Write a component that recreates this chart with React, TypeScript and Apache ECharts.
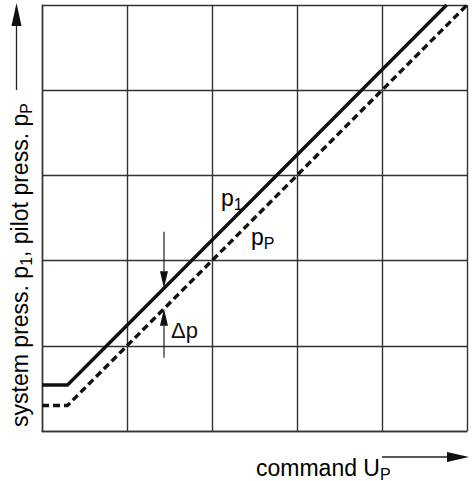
import React, { useEffect, useRef } from 'react';
import * as echarts from 'echarts';

// Axis range (grid of 5 x 5 cells, no tick labels)
const xRange = [0, 5];
const yRange = [0, 5];
const gridStep = 1;

// Series values (command U_P -> pressure)
const systemPressureP1: [number, number][] = [
  [0, 0.54],
  [0.3, 0.54],
  [4.76, 5],
];
const pilotPressurePP: [number, number][] = [
  [0, 0.3],
  [0.3, 0.3],
  [5, 5],
];

// Δp annotation (data coords)
const deltaX = 1.435;
const deltaTopStart = 2.34;
const deltaBottomStart = 0.86;

const yTitle = '{n|system press. p}{s|1}{n|, pilot press. p}{s|P}';
const xTitle = '{n|command U}{s|P}';
const labelP1 = '{n|p}{s|1}';
const labelPP = '{n|p}{s|P}';
const labelDelta = 'Δp';

const FONT = '"Liberation Sans", Arial, sans-serif';

const rich = (big: number, small: number, pad: number) => ({
  n: { fontSize: big, fontFamily: FONT, color: '#111' },
  s: { fontSize: small, fontFamily: FONT, color: '#111', padding: [pad, 0, 0, 0] },
});

export default function App() {
  const ref = useRef<HTMLDivElement>(null);
  useEffect(() => {
    if (!ref.current) return;
    const chart = echarts.init(ref.current, undefined, { renderer: 'svg' });
    const axisCommon = {
      type: 'value' as const,
      interval: gridStep,
      axisLabel: { show: false },
      axisTick: { show: false },
      axisLine: { show: true, lineStyle: { color: '#333', width: 1.4 } },
      splitLine: { show: true, lineStyle: { color: '#333', width: 1.4 } },
    };
    chart.setOption({
      animation: false,
      backgroundColor: '#fff',
      grid: { left: 42, top: 5, width: 425, height: 426, show: false },
      xAxis: { ...axisCommon, min: xRange[0], max: xRange[1] },
      yAxis: { ...axisCommon, min: yRange[0], max: yRange[1] },
      series: [
        {
          type: 'line',
          data: systemPressureP1,
          symbol: 'none',
          lineStyle: { color: '#111', width: 3.4, type: 'solid' },
          z: 3,
        },
        {
          type: 'line',
          data: pilotPressurePP,
          symbol: 'none',
          lineStyle: { color: '#111', width: 3.4, type: [7, 4] },
          z: 3,
        },
      ],
    });

    const px = (x: number, y: number) => chart.convertToPixel({ gridIndex: 0 }, [x, y]) as number[];
    const topA = px(deltaX, deltaTopStart);
    const topTip = px(deltaX, deltaX + 0.24);
    const botA = px(deltaX, deltaBottomStart);
    const botTip = px(deltaX, deltaX);
    const ax = topA[0];
    const head = 17;
    const hw = 4;

    chart.setOption({
      graphic: [
        // Δp arrows
        { type: 'line', shape: { x1: ax, y1: topA[1], x2: ax, y2: topTip[1] - head }, style: { stroke: '#222', lineWidth: 1.2 } },
        { type: 'polygon', shape: { points: [[ax - hw, topTip[1] - head], [ax + hw, topTip[1] - head], [ax, topTip[1]]] }, style: { fill: '#111' } },
        { type: 'line', shape: { x1: ax, y1: botA[1], x2: ax, y2: botTip[1] + head }, style: { stroke: '#222', lineWidth: 1.2 } },
        { type: 'polygon', shape: { points: [[ax - hw, botTip[1] + head], [ax + hw, botTip[1] + head], [ax, botTip[1]]] }, style: { fill: '#111' } },
        // labels
        { type: 'text', x: 221, y: 198, style: { text: labelP1, rich: rich(23, 16, 12), verticalAlign: 'middle' } },
        { type: 'text', x: 251, y: 237, style: { text: labelPP, rich: rich(23, 16, 12), verticalAlign: 'middle' } },
        { type: 'text', x: 171, y: 330, style: { text: labelDelta, fontSize: 22, fontFamily: FONT, fill: '#111', verticalAlign: 'middle' } },
        // y title
        {
          type: 'text', x: 20, y: 265, rotation: Math.PI / 2,
          style: { text: yTitle, rich: rich(23, 16, 12), align: 'center', verticalAlign: 'middle' },
        },
        // y arrow
        { type: 'line', shape: { x1: 16.5, y1: 90, x2: 16.5, y2: 22 }, style: { stroke: '#222', lineWidth: 1.3 } },
        { type: 'polygon', shape: { points: [[11.5, 26], [21.5, 26], [16.5, 3]] }, style: { fill: '#111' } },
        // x title
        { type: 'text', x: 256, y: 468, style: { text: xTitle, rich: rich(23, 16, 12), verticalAlign: 'middle' } },
        // x arrow
        { type: 'line', shape: { x1: 382, y1: 457, x2: 450, y2: 457 }, style: { stroke: '#222', lineWidth: 1.3 } },
        { type: 'polygon', shape: { points: [[447, 452], [447, 462], [469, 457]] }, style: { fill: '#111' } },
      ],
    });

    return () => chart.dispose();
  }, []);
  return <div ref={ref} style={{ position: 'fixed', left: 0, top: 0, width: 476, height: 481 }} />;
}
